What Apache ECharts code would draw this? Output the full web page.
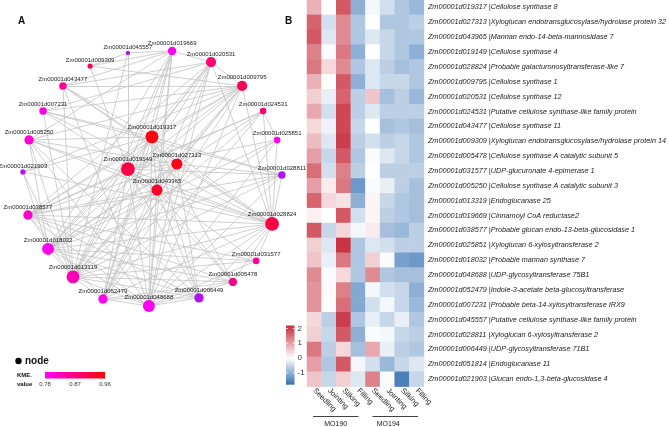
<!DOCTYPE html>
<html><head><meta charset="utf-8">
<script src="https://cdn.jsdelivr.net/npm/echarts@6/dist/echarts.min.js"></script>
<style>html,body{margin:0;padding:0;background:#fff}#c{width:669px;height:427px}</style>
</head><body><div id="c"></div><script>
// ---------- Panel A: co-expression network ----------
const nodeIds = ['Zm00001d045557','Zm00001d019669','Zm00001d020531','Zm00001d009309','Zm00001d043477',
  'Zm00001d009795','Zm00001d007231','Zm00001d024531','Zm00001d005250','Zm00001d019317',
  'Zm00001d025851','Zm00001d021903','Zm00001d019149','Zm00001d027313','Zm00001d028811',
  'Zm00001d043965','Zm00001d038577','Zm00001d028824','Zm00001d018032','Zm00001d031577',
  'Zm00001d013319','Zm00001d005478','Zm00001d052479','Zm00001d048688','Zm00001d006449'];
// layout coordinates (arbitrary 0-100 units)
const nodeX = [42.1,57.9,71.8,28.6,18.9,82.9,11.8,90.4,6.8,50.7,95.4,4.6,42.1,59.6,97.1,52.5,6.4,93.6,13.6,87.9,22.5,79.6,33.2,49.6,67.5];
const nodeY = [95.4,96.1,92.1,90.7,83.6,83.6,74.6,74.6,64.3,65.4,64.3,52.9,53.9,55.7,51.8,46.4,37.5,34.3,25.4,21.1,15.4,13.6,7.5,5.0,7.9];
const nodeKME = [0.75,0.79,0.88,0.90,0.85,0.90,0.80,0.88,0.81,0.95,0.79,0.74,0.91,0.94,0.75,0.93,0.82,0.91,0.79,0.85,0.83,0.86,0.79,0.79,0.75];
const nodeDegree = [3,12,16,5,10,16,10,8,14,22,8,5,24,18,10,18,14,24,20,8,22,12,14,20,14];
const edges = [[0,3],[0,1],[0,12],[0,20],
 [1,2],[1,3],[1,4],[1,9],[1,12],[1,15],[1,18],[1,20],[1,22],[1,23],[1,8],
 [2,5],[2,4],[2,9],[2,12],[2,13],[2,16],[2,18],[2,20],[2,23],[2,6],[2,17],[2,22],
 [3,5],[3,12],
 [4,5],[4,9],[4,17],[4,20],[4,23],[4,13],
 [5,6],[5,8],[5,9],[5,12],[5,13],[5,15],[5,16],[5,18],[5,20],[5,23],[5,17],[5,11],[5,22],
 [6,9],[6,17],[6,20],[6,12],[6,14],
 [7,12],[7,16],[7,18],[7,20],[7,17],[7,10],[7,22],
 [8,9],[8,13],[8,17],[8,20],[8,23],[8,24],[8,18],[8,15],
 [9,12],[9,13],[9,15],[9,16],[9,17],[9,18],[9,20],[9,22],[9,23],[9,24],[9,21],[9,11],[9,14],
 [10,12],[10,18],[10,17],[10,20],[10,23],
 [11,17],[11,20],[11,18],
 [12,13],[12,15],[12,16],[12,17],[12,18],[12,20],[12,21],[12,22],[12,23],[12,24],[12,19],[12,14],
 [13,15],[13,16],[13,17],[13,18],[13,20],[13,22],[13,23],[13,24],[13,14],
 [14,16],[14,18],[14,20],[14,23],[14,17],
 [15,16],[15,17],[15,18],[15,20],[15,22],[15,23],[15,24],[15,21],
 [16,17],[16,20],[16,22],[16,23],[16,24],[16,21],[16,19],
 [17,18],[17,20],[17,22],[17,23],[17,24],[17,21],[17,19],
 [18,20],[18,23],[18,24],[18,21],[18,19],
 [19,20],[19,23],
 [20,22],[20,23],[20,24],[20,21],
 [21,23],[21,22],
 [22,23],[22,24],
 [23,24]];
const kmeTicks = [0.78, 0.87, 0.96];

// ---------- Panel B: heatmap ----------
const geneIds = ['Zm00001d019317','Zm00001d027313','Zm00001d043965','Zm00001d019149','Zm00001d028824',
  'Zm00001d009795','Zm00001d020531','Zm00001d024531','Zm00001d043477','Zm00001d009309',
  'Zm00001d005478','Zm00001d031577','Zm00001d005250','Zm00001d013319','Zm00001d019669',
  'Zm00001d038577','Zm00001d025851','Zm00001d018032','Zm00001d048688','Zm00001d052479',
  'Zm00001d007231','Zm00001d045557','Zm00001d028811','Zm00001d006449','Zm00001d051814','Zm00001d021903'];
const geneDesc = ['Cellulose synthase 8','Xyloglucan endotransglucosylase/hydrolase protein 32',
  'Mannan endo-14-beta-mannosidase 7','Cellulose synthase 4','Probable galacturonosyltransferase-like 7',
  'Cellulose synthase 1','Cellulose synthase 12','Putative cellulose synthase-like family protein',
  'Cellulose synthase 11','Xyloglucan endotransglucosylase/hydrolase protein 14',
  'Cellulose synthase A catalytic subunit 5','UDP-glucuronate 4-epimerase 1',
  'Cellulose synthase A catalytic subunit 3','Endoglucanase 25','Cinnamoyl CoA reductase2',
  'Probable glucan endo-13-beta-glucosidase 1','Xyloglucan 6-xylosyltransferase 2',
  'Probable mannan synthase 7','UDP-glycosyltransferase 75B1','Indole-3-acetate beta-glucosyltransferase',
  'Probable beta-14-xylosyltransferase IRX9','Putative cellulose synthase-like family protein',
  'Xyloglucan 6-xylosyltransferase 2','UDP-glycosyltransferase 71B1','Endoglucanase 11',
  'Glucan endo-1,3-beta-glucosidase 4'];
const stages = ['Seedling','Jointing','Silking','Filling','Seedling','Jointing','Silking','Filling'];
const groups = ['MO190','MO194'];
const expr = [
 [0.8,0.0,1.7,-1.0,-0.1,-0.4,-0.7,-0.9],
 [1.6,-0.4,1.2,-0.7,0.0,-0.7,-0.7,-0.6],
 [1.7,-0.3,1.2,-0.7,-0.3,-0.5,-0.7,-0.7],
 [1.3,0.05,1.4,-1.0,0.0,-0.5,-0.7,-1.0],
 [1.4,0.4,1.2,-0.7,-0.3,-0.6,-0.8,-0.7],
 [0.8,0.0,1.7,-1.0,-0.3,-0.5,-0.5,-0.7],
 [0.5,-0.2,1.6,-0.6,0.6,-0.8,-0.6,-0.9],
 [0.9,-0.4,1.9,-0.6,-0.3,-0.6,-0.6,-0.6],
 [0.4,-0.15,1.9,-0.5,0.0,-0.8,-0.7,-0.8],
 [0.7,-0.3,2.0,-0.6,-0.4,-0.6,-0.5,-0.7],
 [1.0,-0.5,1.7,-0.7,-0.05,-0.3,-0.5,-0.7],
 [1.5,-0.4,1.3,-0.6,0.0,-0.6,-0.6,-0.6],
 [1.0,0.2,1.4,-1.3,-0.05,-0.2,-0.6,-0.8],
 [1.6,0.4,0.3,-1.0,0.1,-0.5,-0.7,-0.8],
 [0.15,0.0,1.7,-0.4,0.1,-0.6,-0.7,-0.8],
 [1.7,-0.5,0.4,-0.1,0.2,-0.8,-0.9,-0.6],
 [0.5,-0.3,2.1,-0.7,-0.3,-0.4,-0.6,-0.6],
 [0.6,-0.2,1.4,-0.7,0.5,-0.05,-1.2,-1.3],
 [1.2,-0.05,0.4,-0.7,1.2,-0.7,-0.8,-0.8],
 [1.1,0.05,1.3,-1.1,-0.1,-0.4,-0.5,-1.0],
 [1.1,0.02,1.5,-1.1,-0.4,-0.1,-0.5,-0.9],
 [0.4,-0.6,2.0,-0.7,-0.2,-0.5,-0.2,-0.7],
 [0.5,-0.5,1.7,-1.0,-0.05,-0.1,-0.5,-0.6],
 [1.4,-0.6,0.4,-0.8,0.9,-0.2,-0.6,-0.7],
 [1.0,-0.7,1.7,-0.1,-0.4,-0.9,-0.5,-0.3],
 [0.6,-0.5,0.5,-0.3,1.3,-0.05,-1.6,-0.5]];
const heatTicks = [2, 1, 0, -1];

// ---------- styling ----------
const FONT = 'Liberation Sans, Arial, sans-serif';
const HMIN = -1.8, HMAX = 2.2;
function mix(a, b, t) { return 'rgb(' + a.map((v, i) => Math.round(v + (b[i] - v) * t)).join(',') + ')'; }
const cBlue = [53, 112, 178], cWhite = [255, 255, 255], cRed = [198, 42, 56];
const heatColors = [];
for (let k = 0; k <= 40; k++) {
  const v = HMIN + k * 0.1;
  heatColors.push(v < 0 ? mix(cWhite, cBlue, -v / -HMIN) : mix(cWhite, cRed, v / HMAX));
}
const heatData = [];
expr.forEach((row, r) => row.forEach((v, c) => heatData.push([c, r, v])));

const KMIN = kmeTicks[0], KMAX = kmeTicks[kmeTicks.length - 1];
const cMag = [255, 0, 255], cR = [255, 0, 0];
function kmeColor(k) {
  if (k < KMIN) return '#b012f2';
  return mix(cMag, cR, Math.min(1, (k - KMIN) / (KMAX - KMIN)));
}

const cb = { left: 286, top: 325.5, w: 8.5, h: 59.2 };
const kb = { left: 45, top: 372, w: 60, h: 6.5 };

const graphics = [
  { type: 'text', left: 18, top: 16, style: { text: 'A', font: 'bold 10px ' + FONT, fill: '#111' } },
  { type: 'text', left: 285, top: 16, style: { text: 'B', font: 'bold 10px ' + FONT, fill: '#111' } },
  { type: 'circle', shape: { cx: 18.5, cy: 361, r: 3.2 }, style: { fill: '#000' } },
  { type: 'text', x: 25, y: 361, style: { text: 'node', font: 'bold 10px ' + FONT, fill: '#111', verticalAlign: 'middle' } },
  { type: 'text', x: 17, y: 375.5, style: { text: 'KME.', font: 'bold 6px ' + FONT, fill: '#111', verticalAlign: 'middle' } },
  { type: 'text', x: 17, y: 384, style: { text: 'value', font: 'bold 6px ' + FONT, fill: '#111', verticalAlign: 'middle' } },
  { type: 'rect', shape: { x: kb.left, y: kb.top, width: kb.w, height: kb.h },
    style: { fill: new echarts.graphic.LinearGradient(0, 0, 1, 0, [
      { offset: 0, color: kmeColor(KMIN) }, { offset: 0.5, color: kmeColor((KMIN + KMAX) / 2) }, { offset: 1, color: kmeColor(KMAX) }]) } },
  // heatmap colour key drawn with the same colour stops as the visualMap
  { type: 'rect', shape: { x: cb.left, y: cb.top, width: cb.w, height: cb.h },
    style: { fill: new echarts.graphic.LinearGradient(0, 1, 0, 0,
      heatColors.map((c, i) => ({ offset: i / (heatColors.length - 1), color: c }))) } }
];
kmeTicks.forEach((t) => {
  const x = kb.left + (t - KMIN) / (KMAX - KMIN) * kb.w;
  graphics.push({ type: 'text', x: x, y: 384, style: { text: t.toFixed(2), font: '6px ' + FONT, fill: '#333', align: 'center', verticalAlign: 'middle' } });
});
heatTicks.forEach((t) => {
  const y = cb.top + (HMAX - t) / (HMAX - HMIN) * cb.h;
  graphics.push({ type: 'text', x: cb.left + cb.w + 3, y: y, style: { text: String(t), font: '8px ' + FONT, fill: '#333', verticalAlign: 'middle' } });
  graphics.push({ type: 'line', shape: { x1: cb.left, y1: y, x2: cb.left + 1.8, y2: y }, style: { stroke: '#fff', lineWidth: 0.8 }, z: 100 });
  graphics.push({ type: 'line', shape: { x1: cb.left + cb.w - 1.8, y1: y, x2: cb.left + cb.w, y2: y }, style: { stroke: '#fff', lineWidth: 0.8 }, z: 100 });
});
// group brackets under the heatmap
const hm = { left: 307, top: 0, width: 119, height: 386.6 };
const colW = hm.width / stages.length;
groups.forEach((g, gi) => {
  const x1 = hm.left + gi * 4 * colW + 6, x2 = hm.left + (gi + 1) * 4 * colW - 8;
  graphics.push({ type: 'line', shape: { x1: x1, y1: 416.5, x2: x2, y2: 416.5 }, style: { stroke: '#111', lineWidth: 0.8 } });
  graphics.push({ type: 'text', x: (x1 + x2) / 2 - gi * 7, y: 424, style: { text: g, font: '7px ' + FONT, fill: '#222', align: 'center', verticalAlign: 'middle' } });
});

const chart = echarts.init(document.getElementById('c'), null, { renderer: 'canvas' });
chart.setOption({
  animation: false,
  backgroundColor: '#fff',
  textStyle: { fontFamily: FONT },
  grid: [
    { left: 10, top: 40, width: 280, height: 280 },
    { left: hm.left, top: hm.top, width: hm.width, height: hm.height }
  ],
  xAxis: [
    { type: 'value', gridIndex: 0, min: 0, max: 100, show: false },
    { type: 'category', gridIndex: 1, data: stages, axisLine: { show: false }, axisTick: { show: false },
      axisLabel: { rotate: -45, interval: 0, fontSize: 7.5, color: '#222', margin: 3, fontFamily: FONT } }
  ],
  yAxis: [
    { type: 'value', gridIndex: 0, min: 0, max: 100, show: false },
    { type: 'category', gridIndex: 1, inverse: true, position: 'right',
      data: geneIds.map((g, i) => g + ' |' + geneDesc[i]),
      axisLine: { show: false }, axisTick: { show: false },
      axisLabel: { interval: 0, fontSize: 7.25, fontStyle: 'italic', color: '#222', margin: 4, fontFamily: FONT } }
  ],
  visualMap: [
    { type: 'continuous', show: false, seriesIndex: 1, dimension: 2, min: HMIN, max: HMAX,
      inRange: { color: heatColors } }
  ],
  graphic: graphics,
  series: [
    { type: 'graph', coordinateSystem: 'cartesian2d', xAxisIndex: 0, yAxisIndex: 0,
      data: nodeIds.map((id, i) => ({ name: id, value: [nodeX[i], nodeY[i]],
        symbol: 'circle', symbolSize: 3 + 0.45 * nodeDegree[i],
        itemStyle: { color: kmeColor(nodeKME[i]), opacity: 1 } })),
      links: edges.map(([a, b]) => ({ source: nodeIds[a], target: nodeIds[b] })),
      lineStyle: { color: '#c4c4c4', width: 0.8, opacity: 1, curveness: 0 },
      label: { show: true, position: 'top', distance: 0, fontSize: 6, color: '#222', fontFamily: FONT },
      emphasis: { disabled: true }, silent: true },
    { type: 'heatmap', xAxisIndex: 1, yAxisIndex: 1, data: heatData, silent: true,
      emphasis: { disabled: true } }
  ]
});
</script></body></html>
